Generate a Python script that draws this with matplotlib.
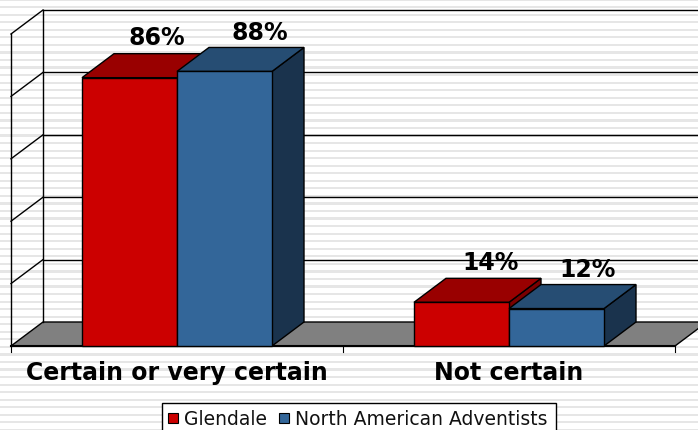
import numpy as np
import matplotlib
matplotlib.use('Agg')
import matplotlib.pyplot as plt
from matplotlib.patches import Polygon, Rectangle

categories = ['Certain or very certain', 'Not certain']
series_names = ['Glendale', 'North American Adventists']
glendale = [86, 14]
adventists = [88, 12]
y_ticks = [0, 20, 40, 60, 80, 100]

W, H = 698, 431
front = ['#CC0000', '#336699']
top = ['#990000', '#264D73']
side = ['#7A0000', '#1A334D']

fig = plt.figure(figsize=(W / 100, H / 100), dpi=100, facecolor='white')

# background stripes
bg = fig.add_axes([0, 0, 1, 1], zorder=0)
bg.set_xlim(0, W)
bg.set_ylim(H, 0)
bg.axis('off')
for y in np.arange(-0.5, H, 7.55):
    bg.add_patch(Rectangle((0, y), W, 2.2, color='#E6E6E6', lw=0))

# front plane of the 3D box
ax = fig.add_axes([11 / W, 1 - 347 / H, 664 / W, 312 / H], zorder=1)
ax.set_xlim(0, 2)
ax.set_ylim(0, 100)
ax.patch.set_alpha(0)
ax.axis('off')

px = 1 / 332
dx = 32 * px
dy = 24 / 3.12
bar_w = 95 * px
gap = 71 * px


def poly(pts, fc, z):
    ax.add_patch(Polygon(pts, closed=True, facecolor=fc, edgecolor='black',
                         lw=1.0, zorder=z, clip_on=False))


def bar3d(x0, val, i, z):
    x1 = x0 + bar_w
    poly([(x1, 0), (x1 + dx, dy), (x1 + dx, val + dy), (x1, val)], side[i], z)
    poly([(x0, val), (x0 + dx, val + dy), (x1 + dx, val + dy), (x1, val)], top[i], z)
    poly([(x0, 0), (x1, 0), (x1, val), (x0, val)], front[i], z)


# floor, runs off the right edge of the picture
right = 2 + dx
poly([(0, 0), (dx, dy), (right, dy), (2, 0)], '#808080', 1)

# walls and gridlines
kw = dict(color='black', lw=1.0, zorder=2, clip_on=False)
ax.plot([0, 0], [0, 100], **kw)
ax.plot([dx, dx], [dy, 100 + dy], **kw)
for t in y_ticks[1:]:
    ax.plot([0, dx], [t, t + dy], **kw)
    ax.plot([dx, right], [t + dy, t + dy], **kw)
ax.plot([0, 2], [0, 0], color='black', lw=1.5, zorder=3, clip_on=False)
for i in range(3):
    ax.plot([i, i], [0, -1.8], color='black', lw=0.8, zorder=3, clip_on=False)

label_kw = dict(ha='center', va='center', fontsize=17, fontweight='bold',
                family='DejaVu Sans', color='black', zorder=8)
# the labels in the original sit a bit unevenly, pixel nudges per bar
nudge_r = [27, 29]
nudge_b = [35, 31]
for c in range(len(categories)):
    x0 = c + gap
    bar3d(x0, glendale[c], 0, 4 + c)
    bar3d(x0 + bar_w, adventists[c], 1, 5 + c)
    ax.text(c + 0.5, -8.2, categories[c], **label_kw)
    ax.text(x0 + bar_w / 2 + nudge_r[c] * px, glendale[c] + dy + 5.2, '%d%%' % glendale[c], **label_kw)
    ax.text(x0 + 1.5 * bar_w + nudge_b[c] * px, adventists[c] + dy + 5.0, '%d%%' % adventists[c], **label_kw)

# legend box, cut by the bottom edge
bg.add_patch(Rectangle((161.5, 404.5), 394, 30, fc='white', ec='black', lw=1, zorder=5))
bg.add_patch(Rectangle((167.5, 414.5), 10, 10, fc=front[0], ec='black', lw=0.8, zorder=6))
bg.text(184, 419.5, series_names[0], fontsize=13.5, va='center', family='DejaVu Sans',
        color='#111111', zorder=6)
bg.add_patch(Rectangle((278.5, 414.5), 10, 10, fc=front[1], ec='black', lw=0.8, zorder=6))
bg.text(295, 419.5, series_names[1], fontsize=13.5, va='center', family='DejaVu Sans',
        color='#111111', zorder=6)

fig.savefig('out.png', dpi=100)
